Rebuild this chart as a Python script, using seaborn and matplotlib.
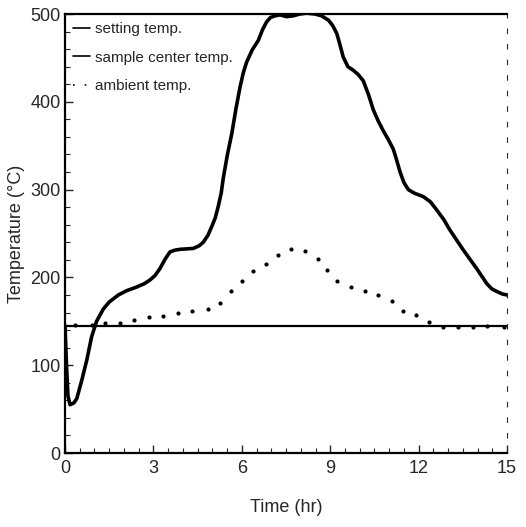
import numpy as np
import pandas as pd
import seaborn as sns
import matplotlib.pyplot as plt
from matplotlib.lines import Line2D
from matplotlib.ticker import MultipleLocator

# values
setting_t = [0, 0.05, 0.1, 0.17, 0.3, 0.4, 0.57, 0.74, 0.9, 1.07, 1.3, 1.5, 1.81, 2.1, 2.43,
             2.7, 2.88, 3.05, 3.22, 3.4, 3.56, 3.72, 3.9, 4.35, 4.55, 4.69, 4.85, 4.98,
             5.1, 5.2, 5.3, 5.37, 5.5, 5.66, 5.8, 5.94, 6.05, 6.16, 6.35, 6.56, 6.7,
             6.84, 6.97, 7.13, 7.3, 7.52, 7.75, 7.97, 8.2, 8.48, 8.7, 8.94, 9.08, 9.22,
             9.33, 9.44, 9.6, 9.78, 9.95, 10.12, 10.3, 10.46, 10.63, 10.8, 10.97, 11.14,
             11.25, 11.37, 11.5, 11.65, 11.85, 12.16, 12.4, 12.61, 12.85, 13.06, 13.52,
             13.97, 14.15, 14.31, 14.48, 14.65, 14.85, 15]
setting_T = [145, 100, 65, 55, 57, 62, 83, 106, 132, 150, 164, 172, 180, 185, 189,
             193, 197, 202, 210, 221, 229, 231, 232, 233, 236, 240, 248, 258,
             268, 281, 296, 313, 338, 364, 392, 417, 433, 445, 459, 470, 482,
             491, 496, 498, 499, 497, 498, 500, 501, 500, 498, 493, 487, 478,
             465, 451, 440, 436, 431, 424, 408, 391, 378, 367, 357, 346,
             334, 320, 308, 300, 296, 292, 286, 277, 266, 254, 231,
             210, 201, 193, 187, 184, 181, 180]

center_t = [0, 15]
center_T = [145, 145]

ambient_t = [0.35, 0.9, 1.37, 1.85, 2.35, 2.84, 3.34, 3.83, 4.32, 4.84, 5.27, 5.63, 5.99,
             6.37, 6.81, 7.23, 7.67, 8.15, 8.57, 8.9, 9.24, 9.69, 10.18, 10.63, 11.08,
             11.48, 11.92, 12.36, 12.84, 13.35, 13.86, 14.33, 14.88]
ambient_T = [146, 146, 148, 148, 151, 155, 156, 159, 162, 164, 171, 184, 196,
             207, 215, 225, 232, 230, 221, 208, 196, 189, 184, 180, 173,
             162, 157, 149, 143, 144, 144, 145, 144]

sns.set_style("ticks")
plt.rcParams['font.family'] = ['Liberation Sans', 'DejaVu Sans']

fig = plt.figure(figsize=(5.26, 5.27), dpi=100)
ax = fig.add_axes([0.1236, 0.1404, 0.8404, 0.833])

df_set = pd.DataFrame({'t': setting_t, 'T': setting_T})
df_cen = pd.DataFrame({'t': center_t, 'T': center_T})
df_amb = pd.DataFrame({'t': ambient_t, 'T': ambient_T})

sns.lineplot(data=df_set, x='t', y='T', ax=ax, color='black', lw=2.6, sort=False,
             solid_joinstyle='round', solid_capstyle='round')
sns.lineplot(data=df_cen, x='t', y='T', ax=ax, color='black', lw=1.6)
sns.scatterplot(data=df_amb, x='t', y='T', ax=ax, color='black', s=9, linewidth=0)

ax.set_xlim(0, 15)
ax.set_ylim(0, 500)
ax.xaxis.set_major_locator(MultipleLocator(3))
ax.xaxis.set_minor_locator(MultipleLocator(0.5))
ax.yaxis.set_major_locator(MultipleLocator(100))
ax.yaxis.set_minor_locator(MultipleLocator(20))
ax.tick_params(which='major', direction='in', length=6, width=1, labelsize=13, pad=5)
ax.tick_params(which='minor', direction='in', length=3.5, width=0.8)
ax.tick_params(axis='y', pad=3)

for s in ['left', 'bottom', 'top']:
    ax.spines[s].set_linewidth(1.6)
    ax.spines[s].set_color('black')
ax.spines['right'].set_visible(True)
ax.spines['right'].set_linewidth(0.8)
ax.spines['right'].set_linestyle((0, (4, 10)))

ax.set_xlabel('Time (hr)', fontsize=13, labelpad=16)
ax.set_ylabel('Temperature (°C)', fontsize=13, labelpad=4)

handles = [Line2D([], [], color='black', lw=1.2),
           Line2D([], [], color='black', lw=1.2),
           Line2D([], [], color='black', lw=1.2, ls=(0, (1, 6)))]
ax.legend(handles, ['setting temp.', 'sample center temp.', 'ambient temp.'],
          loc='upper left', bbox_to_anchor=(-0.012, 1.013), frameon=False,
          fontsize=11, handlelength=1.1, handletextpad=0.3, labelspacing=0.95)

fig.savefig('out.png', dpi=100)
